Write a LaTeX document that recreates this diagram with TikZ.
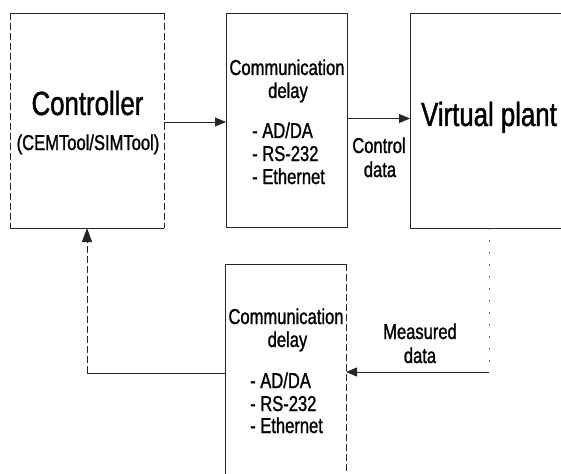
\documentclass[tikz,border=0pt]{standalone}
\usepackage{fontspec}
\setmainfont[FakeStretch=0.77,FakeBold=1.2]{Liberation Sans}
\usetikzlibrary{arrows.meta}
\begin{document}
\begin{tikzpicture}[x=1pt,y=-1pt,
  big/.style={font=\fontsize{33.5}{38}\selectfont, inner sep=0pt},
  small/.style={font=\fontsize{21.5}{25}\selectfont, inner sep=0pt},
  box/.style={rectangle, inner sep=0pt, outer sep=0pt},
  edge/.style={line width=0.9pt, draw=black!85},
  arr/.style={edge, -{Triangle[length=11pt,width=9pt]}},
  brk/.style={edge, dash pattern=on 7pt off 3pt},
  faint/.style={line width=0.6pt, draw=black!55, dash pattern=on 2pt off 10pt}]
\useasboundingbox (0,0) rectangle (561,473);
\clip (0,0) rectangle (561,473);

% boxes
\node[box, minimum width=154pt, minimum height=215pt] (ctrl) at (87,120.5) {};
\node[box, edge, minimum width=121pt, minimum height=214pt] (comm1) at (286.5,120) {};
\node[box, edge, minimum width=160pt, minimum height=215pt] (vp) at (490,120.5) {};
\node[box, minimum width=121pt, minimum height=226pt] (comm2) at (285.5,377) {};

% controller outline
\draw[edge] (ctrl.north west) -- (ctrl.north east);
\draw[edge] (ctrl.south west) -- (ctrl.south east);
\draw[brk] (ctrl.north west) -- (ctrl.south west);
\draw[brk] (ctrl.north east) -- (ctrl.south east);

% lower delay outline
\draw[edge] (comm2.south west) -- (comm2.north west) -- (comm2.north east);
\draw[brk] (comm2.north east) -- (comm2.south east);

% texts
\node[big, anchor=base] (tctrl) at (87.5,115) {Controller};
\node[small, anchor=base] (ttool) at (88,150) {(CEMTool/SIMTool)};

\node[small, anchor=base] (tc1a) at (287,75) {Communication};
\node[small, anchor=base] (tc1b) at (288,98) {delay};
\node[small, anchor=base west] (tc1c) at (252,138) {- AD/DA};
\node[small, anchor=base west] (tc1d) at (252,161) {- RS-232};
\node[small, anchor=base west] (tc1e) at (252,184) {- Ethernet};

\node[small, anchor=base] (tcd1) at (379,153) {Control};
\node[small, anchor=base] (tcd2) at (380,177) {data};

\node[big, anchor=base] (tvp) at (489,126) {Virtual plant};

\node[small, anchor=base] (tc2a) at (286,324) {Communication};
\node[small, anchor=base] (tc2b) at (287.5,347) {delay};
\node[small, anchor=base west] (tc2c) at (250,388) {- AD/DA};
\node[small, anchor=base west] (tc2d) at (250,411) {- RS-232};
\node[small, anchor=base west] (tc2e) at (250,433) {- Ethernet};

\node[small, anchor=base] (tmd1) at (420,339) {Measured};
\node[small, anchor=base] (tmd2) at (420,363) {data};

% connectors
\draw[arr] ([yshift=-1.5pt]ctrl.east) -- ([yshift=-1.5pt]ctrl.east -| comm1.west);
\draw[arr] ([yshift=1.5pt]comm1.east) -- ([yshift=1.5pt]comm1.east -| vp.west);

\coordinate (fr) at (489,372);
\coordinate (fl) at (87,373);
\draw[faint] (vp.south -| fr) -- (fr);
\draw[arr] (fr) -- (fr -| comm2.east);
\draw[edge] (comm2.west |- fl) -- (fl);
\draw[brk, -{Triangle[length=14pt,width=10pt]}] (fl) -- (ctrl.south);
\end{tikzpicture}
\end{document}
